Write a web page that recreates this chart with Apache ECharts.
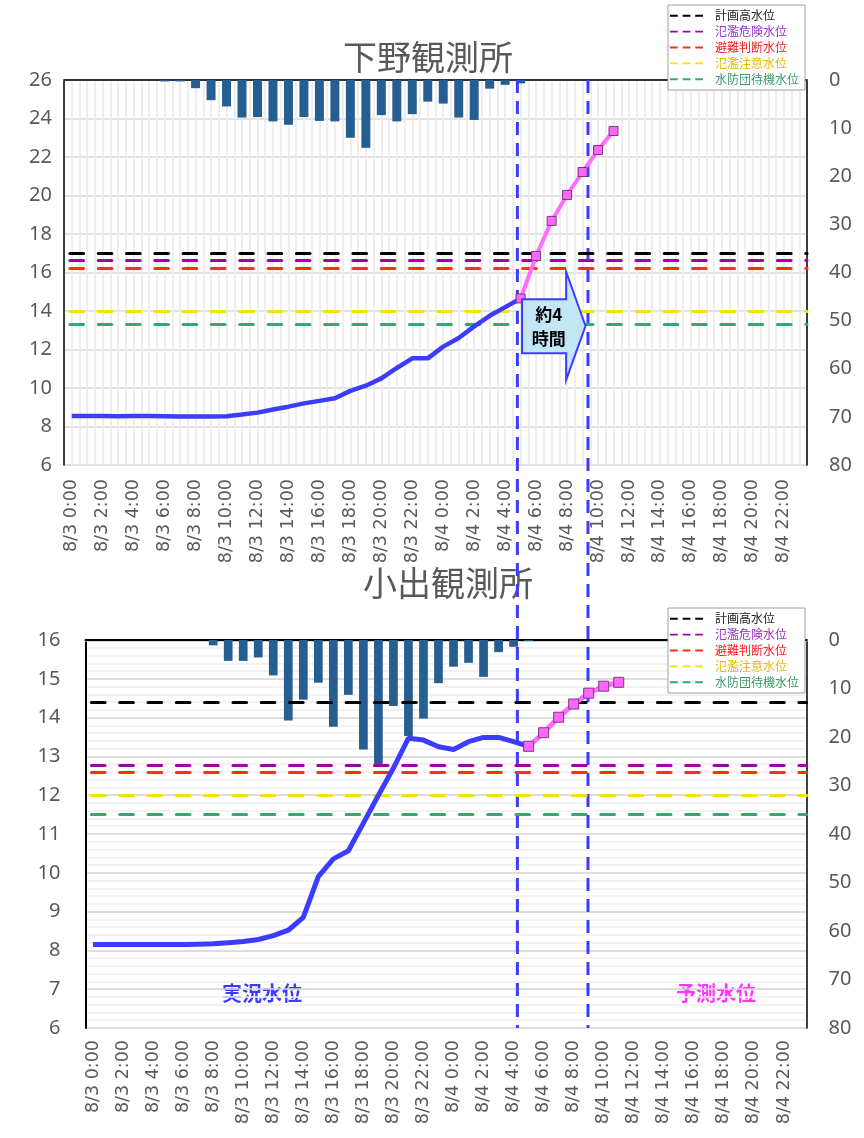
<!DOCTYPE html>
<html><head><meta charset="utf-8">
<script src="https://cdn.jsdelivr.net/npm/echarts@6/dist/echarts.min.js"></script>
<style>html,body{margin:0;padding:0;background:#fff}#c{width:864px;height:1138px}</style>
</head><body><div id="c"></div>
<script>
// ---------- data ----------
const days = ['8/3', '8/4'];
const hours = [0,1,2,3,4,5,6,7,8,9,10,11,12,13,14,15,16,17,18,19,20,21,22,23];
const categories = [];
days.forEach(d => hours.forEach(h => categories.push(d + ' ' + h + ':00')));

const thresholdNames = ['計画高水位', '氾濫危険水位', '避難判断水位', '氾濫注意水位', '水防団待機水位'];
const shimonoThresholds = [17.0, 16.65, 16.2, 14.0, 13.3];
const koideThresholds = [14.4, 12.78, 12.6, 12.0, 11.5];

// 下野観測所 (hourly from 8/3 0:00)
const shimonoActual = [8.55, 8.55, 8.54, 8.53, 8.54, 8.54, 8.53, 8.52, 8.52, 8.52, 8.53, 8.62, 8.72, 8.88, 9.03, 9.2, 9.33, 9.47, 9.85, 10.12, 10.5, 11.04, 11.54, 11.54, 12.15, 12.6, 13.2, 13.75, 14.2, 14.65];
const shimonoForecast = [14.65, 16.86, 18.68, 20.03, 21.22, 22.36, 23.35];
const shimonoRain = [0, 0, 0, 0, 0, 0, 0.3, 0.3, 1.7, 4.2, 5.5, 7.8, 7.7, 8.6, 9.3, 7.7, 8.5, 8.6, 12.0, 14.1, 7.3, 8.6, 7.1, 4.5, 4.9, 7.8, 8.3, 1.8, 1.0, 0.7];

// 小出観測所
const koideActual = [8.15, 8.15, 8.15, 8.15, 8.15, 8.15, 8.15, 8.16, 8.17, 8.2, 8.23, 8.28, 8.38, 8.52, 8.85, 9.9, 10.36, 10.57, 11.28, 12.0, 12.7, 13.47, 13.42, 13.25, 13.18, 13.38, 13.49, 13.49, 13.38, 13.26];
const koideForecast = [13.26, 13.61, 14.01, 14.35, 14.63, 14.81, 14.91];
const koideRain = [0, 0, 0, 0, 0, 0, 0, 0, 1.1, 4.3, 4.3, 3.6, 7.3, 16.6, 12.3, 8.8, 17.9, 11.3, 22.6, 25.8, 13.6, 19.8, 16.2, 8.9, 5.5, 4.7, 7.6, 2.5, 1.4, 0.2];

const forecastStart = 29; // 8/4 5:00

// annotation positions (in category-index units of the upper chart)
const markerLines = [28.79, 33.35];
const arrowSpec = { x0: 29.09, xHead: 31.94, xTip: 33.19, yBodyTop: 14.61, yBodyBot: 11.81, yHeadTop: 16.04, yHeadBot: 10.42, yTip: 13.22, textX: 30.81, textY: 13.17, label: '約4\n時間' };

// ---------- styles ----------
const thresholdColors = ['#000000', '#a000a8', '#ff3010', '#f2e400', '#36a86a'];
const legendTextColors = ['#222222', '#9b30c8', '#ff1a1a', '#e8b800', '#3a9a6a'];
const gray = '#595959';
const numFont = 'Noto Sans';
const jpFont = 'Noto Sans CJK JP';
const dashIcon = 'path://M0,0h8v2h-8z M13,0h8v2h-8z M26,0h8v2h-8z';

function pairs(start, arr) { return arr.map((v, i) => [start + i, v]); }

function thresholdSeries(gridNo, values) {
  const xIdx = gridNo === 0 ? 0 : 2, yIdx = gridNo === 0 ? 0 : 2;
  return thresholdNames.map((n, i) => ({
    name: n, type: 'line', xAxisIndex: xIdx, yAxisIndex: yIdx, data: [], symbol: 'none', z: 3,
    lineStyle: { color: thresholdColors[i], width: 3, type: [13.5, 14.8] },
    itemStyle: { color: thresholdColors[i] },
    markLine: {
      silent: true, symbol: ['none', 'none'], label: { show: false }, animation: false,
      lineStyle: { color: thresholdColors[i], width: 3.2, type: [13.5, 14.8], cap: 'round', dashOffset: -6 },
      data: [{ yAxis: values[i] }]
    }
  }));
}

const legendData = thresholdNames.map((n, i) => ({ name: n, icon: dashIcon, textStyle: { color: legendTextColors[i] } }));
function legend(top) {
  return {
    orient: 'vertical', left: 668, top: top, width: 137,
    padding: [3, 6, 3, 2], itemGap: 0.5, itemWidth: 33, itemHeight: 2,
    backgroundColor: '#fff', borderColor: '#a0a0a0', borderWidth: 1,
    selectedMode: false,
    textStyle: { fontFamily: jpFont, fontSize: 12, lineHeight: 15.4, padding: [0, 0, 0, 7] },
    data: legendData
  };
}

const xLabel = { rotate: 90, interval: 1, color: gray, fontFamily: 'DejaVu Sans', fontSize: 17.5 };

const option = {
  animation: false,
  backgroundColor: '#fff',
  legend: [legend(5), legend(608)],
  grid: [
    { left: 64, top: 80, width: 743, height: 385 },
    { left: 85.5, top: 640, width: 721, height: 388 }
  ],
  xAxis: [
    { type: 'category', gridIndex: 0, data: categories, boundaryGap: true,
      axisLine: { lineStyle: { color: '#c8c8c8', width: 2 } }, axisTick: { show: false },
      axisLabel: Object.assign({ margin: 14 }, xLabel), splitLine: { show: false } },
    { type: 'value', gridIndex: 0, position: 'top', min: -0.5, max: 47.5, interval: 0.5,
      axisLine: { show: true, onZero: false, lineStyle: { color: '#000', width: 1.5 } }, axisTick: { show: false }, axisLabel: { show: false },
      splitLine: { show: true, lineStyle: { color: '#e9e9e9', width: 1.5 } } },
    { type: 'category', gridIndex: 1, data: categories, boundaryGap: true,
      axisLine: { lineStyle: { color: '#c0c0c0', width: 2.5 } }, axisTick: { show: false },
      axisLabel: Object.assign({ margin: 12 }, xLabel), splitLine: { show: false } },
    { type: 'value', gridIndex: 1, position: 'top', min: -0.5, max: 47.5,
      axisLine: { show: true, onZero: false, lineStyle: { color: '#000', width: 2 } }, axisTick: { show: false }, axisLabel: { show: false },
      splitLine: { show: false } }
  ],
  yAxis: [
    { type: 'value', gridIndex: 0, min: 6, max: 26, interval: 2, position: 'left',
      axisLine: { show: true, onZero: false, lineStyle: { color: '#000', width: 1.5 } }, axisTick: { show: false },
      axisLabel: { color: gray, fontFamily: numFont, fontSize: 20, margin: 12 },
      splitLine: { show: true, lineStyle: { color: '#d9d9d9', width: 1.5 } } },
    { type: 'value', gridIndex: 0, min: 0, max: 80, interval: 10, inverse: true, position: 'right',
      axisLine: { show: true, onZero: false, lineStyle: { color: '#000', width: 1.5 } }, axisTick: { show: false },
      axisLabel: { color: gray, fontFamily: numFont, fontSize: 20, margin: 22 }, splitLine: { show: false } },
    { type: 'value', gridIndex: 1, min: 6, max: 16, interval: 1, position: 'left',
      axisLine: { show: true, onZero: false, lineStyle: { color: '#000', width: 2 } }, axisTick: { show: false },
      axisLabel: { color: gray, fontFamily: numFont, fontSize: 20, margin: 25 },
      splitLine: { show: true, lineStyle: { color: '#d2d2d2', width: 1.5 } },
      minorTick: { show: false, splitNumber: 5 },
      minorSplitLine: { show: true, lineStyle: { color: '#eeeeee', width: 1.5 } } },
    { type: 'value', gridIndex: 1, min: 0, max: 80, interval: 10, inverse: true, position: 'right',
      axisLine: { show: true, onZero: false, lineStyle: { color: '#000', width: 1.5 } }, axisTick: { show: false },
      axisLabel: { color: gray, fontFamily: numFont, fontSize: 20, margin: 22 }, splitLine: { show: false } }
  ],
  series: [
    { name: '下野雨量', type: 'bar', xAxisIndex: 0, yAxisIndex: 1, data: shimonoRain, barWidth: '58%', z: 2,
      itemStyle: { color: '#255e91' } },
    { name: '小出雨量', type: 'bar', xAxisIndex: 2, yAxisIndex: 3, data: koideRain, barWidth: '58%', z: 2,
      itemStyle: { color: '#255e91' } },
    ...thresholdSeries(0, shimonoThresholds),
    ...thresholdSeries(1, koideThresholds),
    { name: '下野実況', type: 'line', xAxisIndex: 0, yAxisIndex: 0, data: shimonoActual, symbol: 'none', z: 5,
      lineStyle: { color: '#3c3cff', width: 4.5 } },
    { name: '下野予測', type: 'line', xAxisIndex: 0, yAxisIndex: 0, data: pairs(forecastStart, shimonoForecast), z: 6,
      symbol: 'rect', symbolSize: 9, showAllSymbol: true,
      lineStyle: { color: '#ff6cff', width: 4 }, itemStyle: { color: '#ff66ff', borderColor: '#7a3a7a', borderWidth: 1 } },
    { name: '小出実況', type: 'line', xAxisIndex: 2, yAxisIndex: 2, data: koideActual, symbol: 'none', z: 5,
      lineStyle: { color: '#3c3cff', width: 5 } },
    { name: '小出予測', type: 'line', xAxisIndex: 2, yAxisIndex: 2, data: pairs(forecastStart, koideForecast), z: 6,
      symbol: 'rect', symbolSize: 10, showAllSymbol: true,
      lineStyle: { color: '#ff6cff', width: 5 }, itemStyle: { color: '#ff66ff', borderColor: '#7a3a7a', borderWidth: 1 } },
    { name: '矢印', type: 'custom', xAxisIndex: 1, yAxisIndex: 0, z: 7, silent: true,
      data: [[arrowSpec.x0, arrowSpec.yBodyTop]],
      renderItem: function (params, api) {
        const a = arrowSpec;
        const c = (x, y) => api.coord([x, y]);
        const pts = [c(a.x0, a.yBodyTop), c(a.xHead, a.yBodyTop), c(a.xHead, a.yHeadTop), c(a.xTip, a.yTip),
                     c(a.xHead, a.yHeadBot), c(a.xHead, a.yBodyBot), c(a.x0, a.yBodyBot)];
        const t = c(a.textX, a.textY);
        return { type: 'group', children: [
          { type: 'polygon', shape: { points: pts },
            style: { fill: '#c3e6f6', stroke: '#3c3cff', lineWidth: 2 } },
          { type: 'text', style: { text: a.label, x: t[0], y: t[1], align: 'center', verticalAlign: 'middle',
            font: 'bold 17px "Noto Sans CJK JP"', fill: '#000', lineHeight: 24 } }
        ] };
      } }
  ],
  graphic: [
    { type: 'text', style: { text: '下野観測所', x: 428, y: 57, align: 'center', verticalAlign: 'middle',
      font: '34px "Noto Sans CJK JP"', fill: gray } },
    { type: 'text', style: { text: '小出観測所', x: 448, y: 583, align: 'center', verticalAlign: 'middle',
      font: '34px "Noto Sans CJK JP"', fill: gray } },
    { type: 'text', style: { text: '実況水位', x: 262, y: 993, align: 'center', verticalAlign: 'middle',
      font: 'bold 20px "Noto Sans CJK JP"', fill: '#3c3cff' } },
    { type: 'text', style: { text: '予測水位', x: 716, y: 993, align: 'center', verticalAlign: 'middle',
      font: 'bold 20px "Noto Sans CJK JP"', fill: '#ff33ff' } }
  ]
};

const chart = echarts.init(document.getElementById('c'), null, { renderer: 'canvas' });
chart.setOption(option);

// vertical dashed marker lines spanning both charts, placed via the upper chart's axis
const yTop = chart.convertToPixel({ yAxisIndex: 0 }, 26);
const yBottom = chart.convertToPixel({ yAxisIndex: 2 }, 6);
const extra = markerLines.map(v => {
  const x = chart.convertToPixel({ xAxisIndex: 1 }, v);
  return { type: 'line', z: 4, silent: true,
    shape: { x1: x, y1: yTop, x2: x, y2: yBottom },
    style: { stroke: '#3c3cff', lineWidth: 3, lineDash: [13, 8] } };
});
chart.setOption({ graphic: option.graphic.concat(extra) });
</script></body></html>
